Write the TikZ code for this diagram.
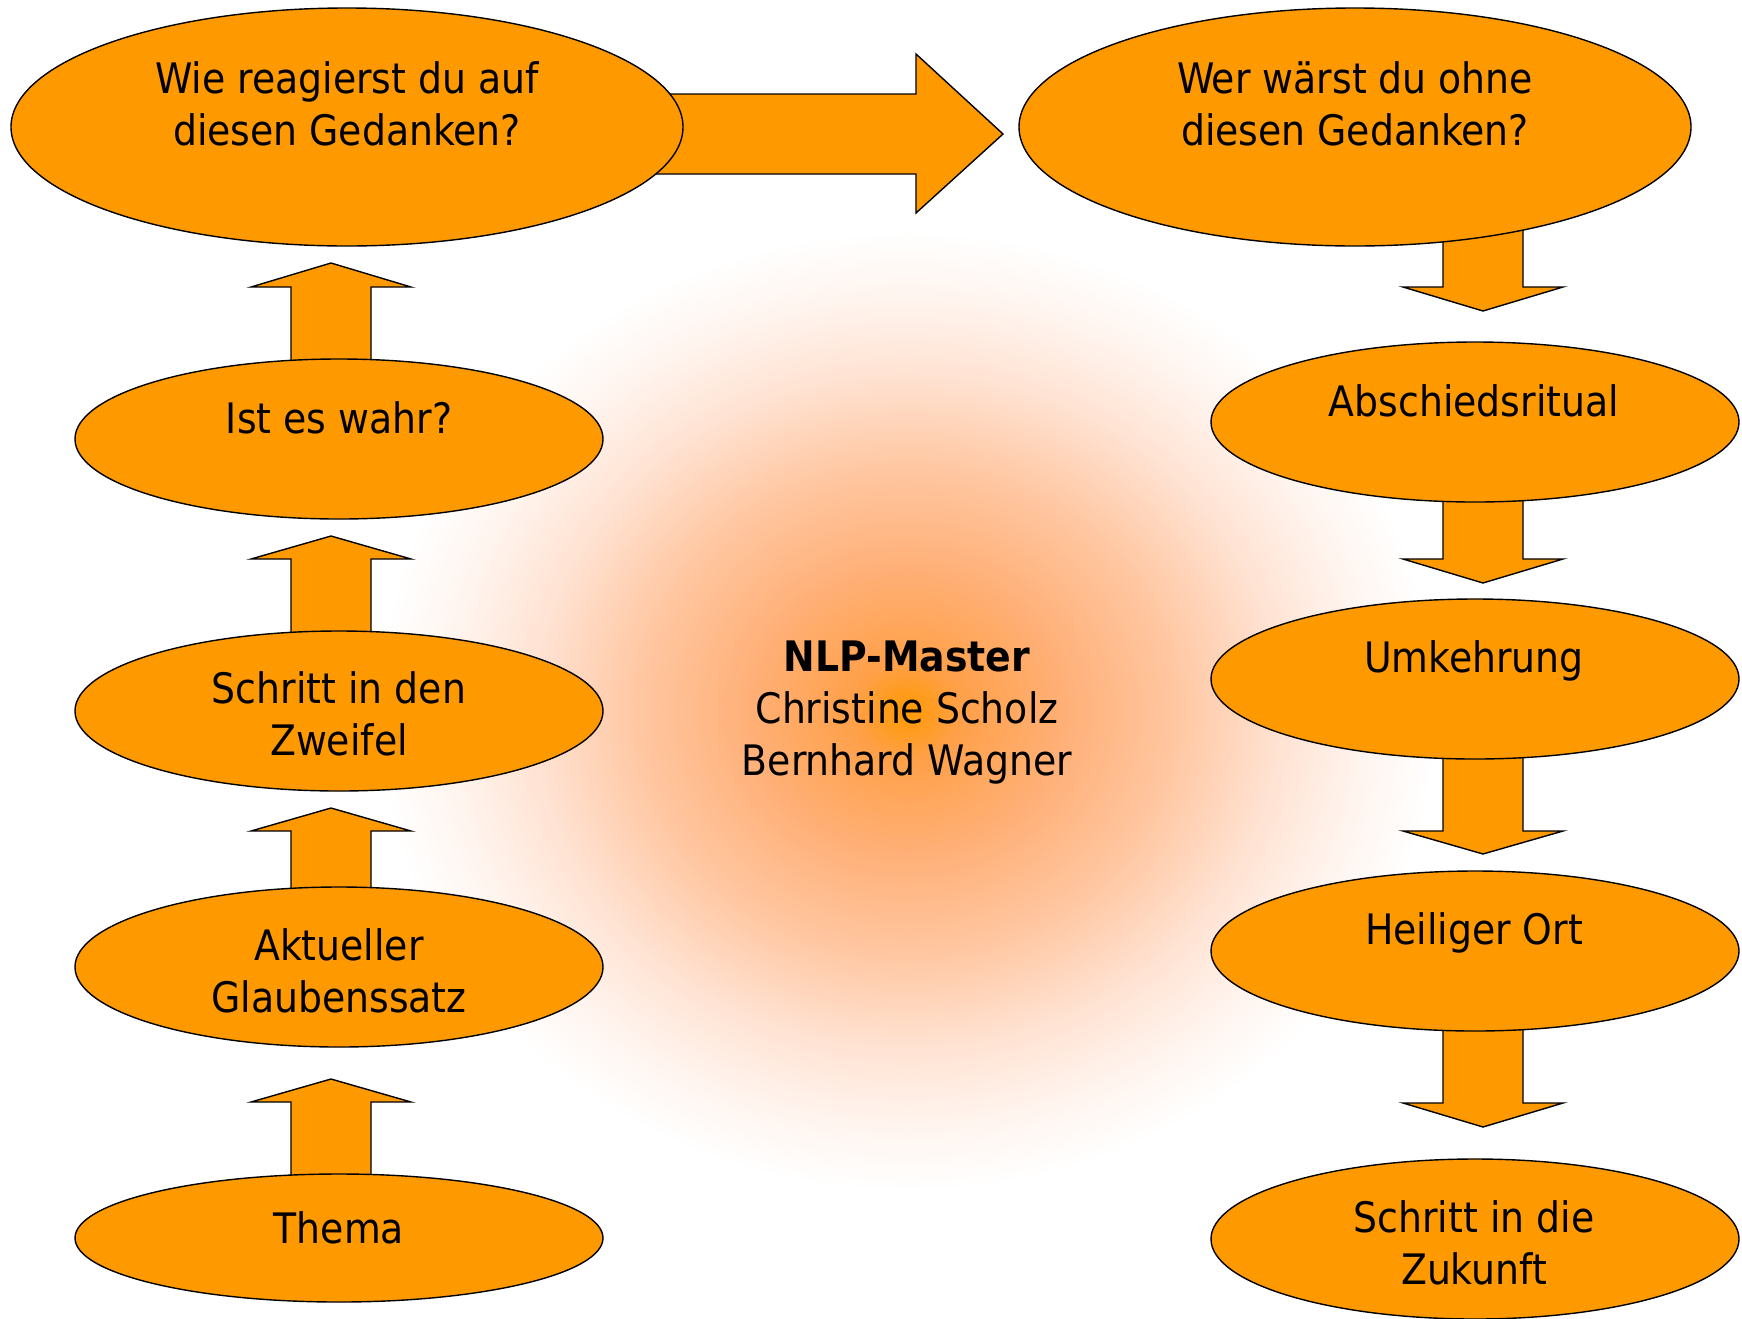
\documentclass[tikz,border=0pt]{standalone}
\usepackage{fontspec}
\setmainfont{DejaVu Sans Condensed}
\usetikzlibrary{shapes.geometric}
\definecolor{org}{RGB}{255,153,0}
\definecolor{glowa}{RGB}{255,160,72}
\definecolor{glowb}{RGB}{255,176,120}
\definecolor{glowc}{RGB}{255,198,160}
\definecolor{glowd}{RGB}{255,226,210}
\definecolor{glowe}{RGB}{255,244,238}
\pgfdeclareradialshading{glow}{\pgfpoint{0bp}{0bp}}{color(0bp)=(org); color(2.5bp)=(glowa); color(7.5bp)=(glowb); color(12.5bp)=(glowc); color(17.5bp)=(glowd); color(21.5bp)=(glowe); color(25bp)=(white); color(50bp)=(white)}
\tikzset{
  ell/.style={ellipse, draw=black, fill=org, line width=1.4pt, minimum width=528pt, minimum height=160pt, inner sep=0pt},
  bigell/.style={ellipse, draw=black, fill=org, line width=1.4pt, minimum width=672pt, minimum height=238pt, inner sep=0pt},
  txt/.style={font=\fontsize{42}{52}\selectfont, align=center, inner sep=0pt},
  blk/.style={draw=black, fill=org, line width=1.4pt, line join=miter}
}
\newcommand\blockup[4]{% cx, tip, base, bottom
  \draw[blk] (#1-40,#4) -- (#1-40,#3) -- (#1-80,#3) -- (#1,#2) -- (#1+80,#3) -- (#1+40,#3) -- (#1+40,#4) -- cycle;}
\newcommand\blockdown[4]{% cx, top, base, tip
  \draw[blk] (#1-40,#2) -- (#1-40,#3) -- (#1-80,#3) -- (#1,#4) -- (#1+80,#3) -- (#1+40,#3) -- (#1+40,#2) -- cycle;}
\begin{document}
\begin{tikzpicture}[x=1pt,y=-1pt]
\useasboundingbox (0,0) rectangle (1742,1318);
\fill[white] (0,0) rectangle (1742,1318);
\shade[shading=glow] (377,231) rectangle (1437,1191);
% block arrows
\draw[blk] (600,94) -- (916,94) -- (916,54) -- (1003,134) -- (916,213) -- (916,174) -- (600,174) -- cycle;
\blockup{331}{263}{287}{380}
\blockup{331}{536}{559}{652}
\blockup{331}{808}{831}{908}
\blockup{331}{1079}{1102}{1195}
\blockdown{1483}{200}{287}{311}
\blockdown{1483}{480}{559}{583}
\blockdown{1483}{740}{831}{854}
\blockdown{1483}{1010}{1103}{1127}
% ellipses
\node[bigell] (q1) at (347,127) {};
\node[bigell] (q2) at (1355,127) {};
\node[ell] (wahr) at (339,439) {};
\node[ell] (zweifel) at (339,711) {};
\node[ell] (glaub) at (339,967) {};
\node[ell, minimum height=128pt] (thema) at (339,1238) {};
\node[ell] (absch) at (1475,422) {};
\node[ell] (umk) at (1475,679) {};
\node[ell] (ort) at (1475,951) {};
\node[ell] (zuk) at (1475,1239) {};
% texts
\node[txt] (q1t) at (347,104) {Wie reagierst du auf\\diesen Gedanken?};
\node[txt] (q2t) at (1355,104) {Wer wärst du ohne\\diesen Gedanken?};
\node[txt] (wahrt) at (339,418) {Ist es wahr?};
\node[txt] (zweifelt) at (339,714) {Schritt in den\\Zweifel};
\node[txt] (glaubt) at (339,971) {Aktueller\\Glaubenssatz};
\node[txt] (themat) at (339,1228) {Thema};
\node[txt] (abscht) at (1474,401) {Abschiedsritual};
\node[txt] (umkt) at (1474,661) {Umkehrung};
\node[txt] (ortt) at (1474,933) {Heiliger Ort};
\node[txt] (zukt) at (1474,1243) {Schritt in die\\Zukunft};
\node[txt] (center) at (907,713) {\textbf{NLP-Master}\\Christine Scholz\\Bernhard Wagner};
\end{tikzpicture}
\end{document}
